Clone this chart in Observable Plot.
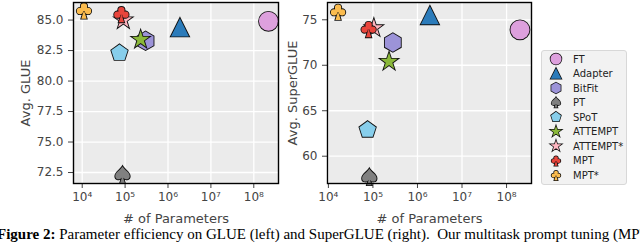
<!DOCTYPE html>
<html><head><meta charset="utf-8">
<script src="https://cdn.jsdelivr.net/npm/d3@7"></script>
<script src="https://cdn.jsdelivr.net/npm/@observablehq/plot@0.6"></script>
<style>
body{margin:0;background:#fff;}
#root{position:relative;width:640px;height:243px;overflow:hidden;font-family:"DejaVu Sans";}
#left{position:absolute;left:0;top:0;width:290px;}
#right{position:absolute;left:285px;top:0;width:255px;}
#legend{position:absolute;left:541px;top:50px;width:84px;height:133px;background:#f2f2f2;border:1px solid #d8d8d8;border-radius:3px;}
#caption{position:absolute;left:-3px;top:227px;white-space:nowrap;font-family:"Liberation Serif";font-size:15px;line-height:15px;color:#000;}
</style></head>
<body>
<div id="root">
  <div id="left"></div>
  <div id="right"></div>
  <div id="legend"></div>
  <div id="caption"><b>Figure 2:</b> Parameter efficiency on GLUE (left) and SuperGLUE (right). &nbsp;Our multitask prompt tuning (MPT)</div>
</div>
<script>
// ---- data ----
const methods = ["FT","Adapter","BitFit","PT","SPoT","ATTEMPT","ATTEMPT*","MPT","MPT*"];
const glueParams = [2.2e8, 1.9e6, 3.0e5, 8.7e4, 7.4e4, 2.3e5, 9.1e4, 8.2e4, 1.1e4];
const glueScores = [84.9, 84.4, 83.3, 72.3, 82.3, 83.4, 85.0, 85.5, 85.8];
const sgParams = [2.0e8, 1.9e6, 2.8e5, 8.3e4, 7.6e4, 2.3e5, 1.05e5, 8.0e4, 1.65e4];
const sgScores = [73.9, 75.5, 72.5, 57.7, 62.9, 70.4, 74.1, 74.0, 75.9];
const colors = ["#dda0dd","#2b7bba","#9c93d8","#808080","#87ceeb","#8ab83a","#ffb6c1","#e8453c","#fbbc4e"];
const xTicks = [1e4, 1e5, 1e6, 1e7, 1e8];
const glueTicks = [72.5, 75.0, 77.5, 80.0, 82.5, 85.0];
const sgTicks = [60, 65, 70, 75];

// ---- custom marker shapes ----
const rad = s => Math.sqrt(s / Math.PI);
function poly(n, ratio) {
  return {draw(ctx, size) {
    const r = rad(size);
    const pts = ratio ? 2 * n : n;
    for (let i = 0; i < pts; i++) {
      const a = -Math.PI / 2 + i * 2 * Math.PI / pts;
      const rr = ratio && (i % 2) ? r * ratio : r;
      const x = rr * Math.cos(a), y = rr * Math.sin(a);
      i ? ctx.lineTo(x, y) : ctx.moveTo(x, y);
    }
    ctx.closePath();
  }};
}
const circle = {draw(ctx, size){ const r = rad(size); ctx.moveTo(r,0); ctx.arc(0,0,r,0,2*Math.PI); }};
const triangle = {draw(ctx, size){ const r = rad(size); ctx.moveTo(0,-r); ctx.lineTo(r,r); ctx.lineTo(-r,r); ctx.closePath(); }};
const hexagon = poly(6);
const pentagon = poly(5);
const star = poly(5, 0.381966);
const spade = {draw(ctx, size){ const r = rad(size);
  ctx.moveTo(0,-r);
  ctx.bezierCurveTo(0.25*r,-0.55*r, 0.85*r,-0.35*r, 0.85*r,0.15*r);
  ctx.bezierCurveTo(0.85*r,0.55*r, 0.3*r,0.65*r, 0.06*r,0.3*r);
  ctx.lineTo(0.28*r,0.95*r); ctx.lineTo(-0.28*r,0.95*r); ctx.lineTo(-0.06*r,0.3*r);
  ctx.bezierCurveTo(-0.3*r,0.65*r, -0.85*r,0.55*r, -0.85*r,0.15*r);
  ctx.bezierCurveTo(-0.85*r,-0.35*r, -0.25*r,-0.55*r, 0,-r);
  ctx.closePath(); }};
const club = {draw(ctx, size){ const r = rad(size);
  const c = (x,y,q) => { ctx.moveTo((x+q)*r, y*r); ctx.arc(x*r, y*r, q*r, 0, 2*Math.PI); };
  c(0,-0.44,0.36); c(-0.46,0.08,0.36); c(0.46,0.08,0.36);
  ctx.moveTo(0,-0.44*r); ctx.lineTo(0.46*r,0.08*r); ctx.lineTo(-0.46*r,0.08*r); ctx.closePath();
  ctx.moveTo(0,0); ctx.lineTo(0.3*r,0.95*r); ctx.lineTo(-0.3*r,0.95*r); ctx.closePath(); }};
const symbols = [circle, triangle, hexagon, spade, pentagon, star, star, club, club];
const sizes = [9.5, 9, 9.2, 8.5, 8.6, 9, 9, 8.8, 8.8];

const sup = {"4":"⁴","5":"⁵","6":"⁶","7":"⁷","8":"⁸"};
const xFmt = d => "10" + sup[String(Math.round(Math.log10(d)))];

function panel({params, scores, xDomain, yDomain, yTicks, yFmt, ylabel, width, marginLeft, marginRight, ylabelDx}) {
  const data = methods.map((m, i) => ({method: m, params: params[i], score: scores[i]}));
  const dots = data.flatMap((d, i) => [
    Plot.dot([d], {x: "params", y: "score", symbol: symbols[i], r: sizes[i], fill: colors[i], stroke: "#111", strokeWidth: 1.8}),
    Plot.dot([d], {x: "params", y: "score", symbol: symbols[i], r: sizes[i], fill: colors[i], stroke: "none"})
  ]);
  return Plot.plot({
    width, height: 225, marginLeft, marginRight, marginTop: 2, marginBottom: 42,
    style: {fontFamily: "DejaVu Sans", fontSize: "12px", background: "transparent", overflow: "visible"},
    x: {type: "log", domain: xDomain},
    y: {domain: yDomain},
    marks: [
      Plot.frame({fill: "#ebebeb", stroke: "none"}),
      Plot.gridX(xTicks, {stroke: "white", strokeOpacity: 1, strokeWidth: 1.3}),
      Plot.gridY(yTicks, {stroke: "white", strokeOpacity: 1, strokeWidth: 1.3}),
      Plot.axisX(xTicks, {tickFormat: xFmt, tickSize: 5, tickPadding: 4, color: "#444", fontSize: 12, label: null}),
      Plot.axisY(yTicks, {tickFormat: yFmt, tickSize: 5, tickPadding: 5, color: "#444", fontSize: 12, label: null}),
      ...dots,
      Plot.frame({stroke: "#000", strokeWidth: 1.4}),
      Plot.text(["# of Parameters"], {frameAnchor: "bottom", lineAnchor: "middle", textAnchor: "middle", dy: 35, fontSize: 13, fill: "#444"}),
      Plot.text([ylabel], {frameAnchor: "left", rotate: -90, textAnchor: "middle", lineAnchor: "middle", dx: ylabelDx, fontSize: 13, fill: "#444"})
    ]
  });
}

document.getElementById("left").append(panel({
  params: glueParams, scores: glueScores,
  xDomain: [Math.pow(10, 3.797), Math.pow(10, 8.576)],
  yDomain: [71.6, 86.44], yTicks: glueTicks, yFmt: d => d.toFixed(1),
  ylabel: "Avg. GLUE", width: 290, marginLeft: 73, marginRight: 12, ylabelDx: -48
}));
document.getElementById("right").append(panel({
  params: sgParams, scores: sgScores,
  xDomain: [Math.pow(10, 3.98), Math.pow(10, 8.56)],
  yDomain: [57.0, 76.9], yTicks: sgTicks, yFmt: d => String(d),
  ylabel: "Avg. SuperGLUE", width: 255, marginLeft: 42, marginRight: 9, ylabelDx: -35
}));

// ---- legend ----
const lg = d3.select("#legend").append("svg").attr("width", 84).attr("height", 133)
  .style("font-family", "DejaVu Sans").style("font-size", "10px");
const lsizes = [5.5, 5.3, 5.4, 5.2, 5.2, 5.6, 5.6, 5.4, 5.4];
methods.forEach((m, i) => {
  const g = lg.append("g").attr("transform", `translate(14,${8 + i * 14.5})`);
  const p = d3.symbol(symbols[i], lsizes[i] * lsizes[i] * Math.PI)();
  g.append("path").attr("d", p).attr("fill", colors[i]).attr("stroke", "#111").attr("stroke-width", 1.5);
  g.append("path").attr("d", p).attr("fill", colors[i]);
  g.append("text").attr("x", 17).attr("dy", "0.35em").attr("fill", "#222").text(m);
});
</script>
</body></html>
